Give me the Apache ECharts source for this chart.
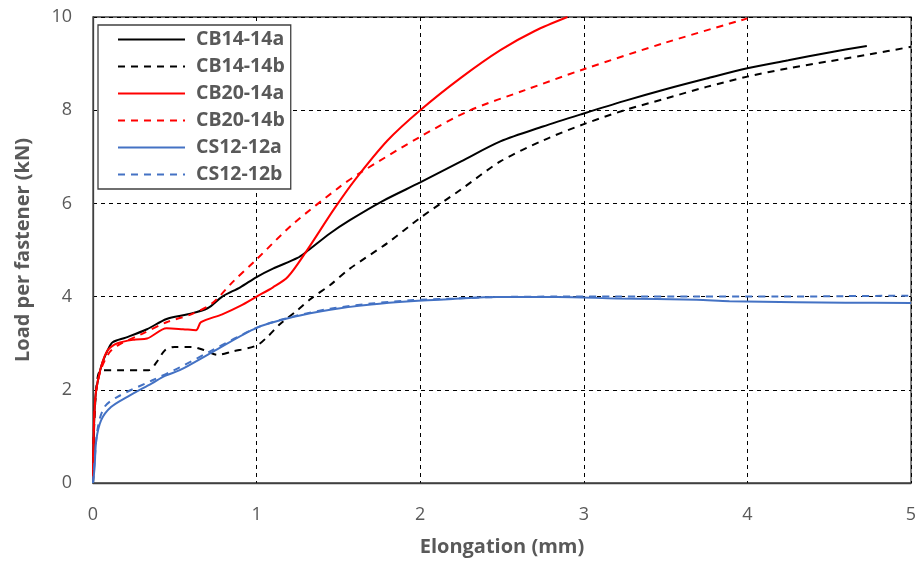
<!DOCTYPE html>
<html><head><meta charset="utf-8">
<script src="https://cdn.jsdelivr.net/npm/echarts@6/dist/echarts.min.js"></script>
<style>html,body{margin:0;padding:0;background:#fff}#c{width:922px;height:564px}</style>
</head><body><div id="c"></div>
<script>
const seriesNames = ['CB14-14a','CB14-14b','CB20-14a','CB20-14b','CS12-12a','CS12-12b'];
const xTicks = [0,1,2,3,4,5];
const yTicks = [0,2,4,6,8,10];

const cb14a = [[0,0],[0.005,1.0],[0.01,1.6],[0.02,2.0],[0.05,2.5],[0.09,2.85],[0.12,3.02],[0.2,3.12],[0.33,3.3],[0.45,3.52],[0.58,3.62],[0.7,3.75],[0.79,4.0],[0.9,4.2],[1.0,4.42],[1.1,4.6],[1.25,4.83],[1.3,4.95],[1.45,5.36],[1.57,5.64],[1.77,6.05],[2.0,6.45],[2.25,6.9],[2.49,7.33],[2.75,7.65],[3.0,7.93],[3.25,8.2],[3.5,8.45],[3.75,8.68],[4.0,8.9],[4.25,9.07],[4.5,9.24],[4.73,9.38]];
const cb14b = [[0,0],[0.005,1.0],[0.015,1.8],[0.03,2.3],[0.05,2.42],[0.15,2.42],[0.34,2.42],[0.39,2.6],[0.44,2.85],[0.5,2.92],[0.6,2.92],[0.68,2.85],[0.76,2.75],[0.85,2.82],[1.0,2.95],[1.07,3.15],[1.14,3.4],[1.25,3.71],[1.33,3.95],[1.45,4.25],[1.57,4.6],[1.8,5.15],[2.0,5.69],[2.25,6.3],[2.49,6.9],[2.75,7.35],[3.0,7.7],[3.25,8.0],[3.5,8.25],[3.75,8.5],[4.0,8.72],[4.25,8.9],[4.5,9.05],[4.75,9.2],[5.0,9.36]];
const cb20a = [[0,0],[0.004,1.0],[0.01,1.6],[0.02,2.0],[0.05,2.5],[0.09,2.85],[0.15,3.0],[0.26,3.08],[0.33,3.1],[0.45,3.32],[0.55,3.3],[0.63,3.28],[0.66,3.45],[0.79,3.62],[0.9,3.8],[1.0,4.0],[1.1,4.2],[1.19,4.42],[1.3,4.95],[1.47,5.86],[1.6,6.5],[1.8,7.35],[2.0,8.0],[2.25,8.7],[2.49,9.29],[2.7,9.7],[2.9,10.0]];
const cb20b = [[0,0],[0.004,1.0],[0.01,1.6],[0.02,2.0],[0.05,2.45],[0.1,2.8],[0.15,2.95],[0.3,3.2],[0.45,3.45],[0.6,3.62],[0.73,3.86],[0.85,4.3],[1.0,4.8],[1.22,5.55],[1.51,6.36],[1.63,6.65],[2.0,7.43],[2.3,7.99],[2.64,8.43],[3.0,8.88],[3.5,9.45],[4.0,9.97]];
const cs12a = [[0,0],[0.01,0.35],[0.02,0.92],[0.05,1.35],[0.11,1.63],[0.21,1.85],[0.36,2.14],[0.44,2.3],[0.53,2.42],[0.73,2.81],[1.0,3.33],[1.22,3.56],[1.45,3.72],[1.7,3.83],[1.94,3.9],[2.2,3.95],[2.47,3.99],[2.84,3.99],[3.2,3.96],[3.69,3.93],[3.89,3.9],[4.3,3.88],[4.6,3.87],[5.0,3.86]];
const cs12b = [[0,0],[0.01,0.5],[0.03,1.2],[0.07,1.63],[0.15,1.85],[0.36,2.2],[0.53,2.48],[0.73,2.85],[1.0,3.33],[1.22,3.57],[1.45,3.74],[1.7,3.85],[1.94,3.92],[2.2,3.96],[2.47,3.99],[2.84,4.0],[3.2,4.0],[3.69,4.0],[4.2,4.0],[4.6,4.01],[5.0,4.02]];

const dataSets = [cb14a, cb14b, cb20a, cb20b, cs12a, cs12b];
const colors = ['#000000','#000000','#ff0000','#ff0000','#4472c4','#4472c4'];
const types = ['solid','dashed','solid','dashed','solid','dashed'];

const chart = echarts.init(document.getElementById('c'), null, {renderer:'canvas'});
const font = 'Open Sans';
chart.setOption({
  animation:false,
  backgroundColor:'#fff',
  grid:{left:93,right:11,top:17,bottom:81,show:true,borderColor:'#404040',borderWidth:1.3,outerBoundsMode:'none',containLabel:false},
  legend:{
    orient:'vertical', left:98, top:25,
    backgroundColor:'#fff', borderColor:'#404040', borderWidth:1.3,
    padding:[4,6,4,19],
    itemWidth:67, itemHeight:14, itemGap:6,
    itemStyle:{opacity:0},
    textStyle:{fontFamily:font,fontSize:19.5,fontWeight:'bold',color:'#595959',padding:[0,0,0,6],lineHeight:21},
    data: seriesNames
  },
  xAxis:{type:'value',min:0,max:5,interval:1,
    name:'Elongation (mm)',nameLocation:'middle',nameGap:54,
    nameTextStyle:{fontFamily:font,fontSize:20,fontWeight:'bold',color:'#595959'},
    axisLine:{show:true,onZero:false,lineStyle:{color:'#404040',width:1.3}},
    axisTick:{show:false},
    axisLabel:{fontFamily:font,fontSize:18,color:'#595959',margin:23,formatter:v=>xTicks.includes(v)?String(v):''},
    splitLine:{show:true,lineStyle:{color:'#000',type:[4,4],width:1}}
  },
  yAxis:{type:'value',min:0,max:10,interval:2,
    name:'Load per fastener (kN)',nameLocation:'middle',nameGap:60,
    nameTextStyle:{fontFamily:font,fontSize:20,fontWeight:'bold',color:'#595959'},
    axisLine:{show:true,lineStyle:{color:'#404040',width:1.3}},
    axisTick:{show:false},
    axisLabel:{fontFamily:font,fontSize:18,color:'#595959',margin:21,formatter:v=>yTicks.includes(v)?String(v):''},
    splitLine:{show:true,lineStyle:{color:'#000',type:[4,4],width:1}}
  },
  series: seriesNames.map((n,i)=>({
    name:n,type:'line',data:dataSets[i],showSymbol:false,symbol:'none',smooth:0.3,
    clip:true,
    lineStyle:{color:colors[i],width:2,type:types[i]==='dashed'?[7,6]:'solid'},
    itemStyle:{color:colors[i]}
  }))
});
</script></body></html>
